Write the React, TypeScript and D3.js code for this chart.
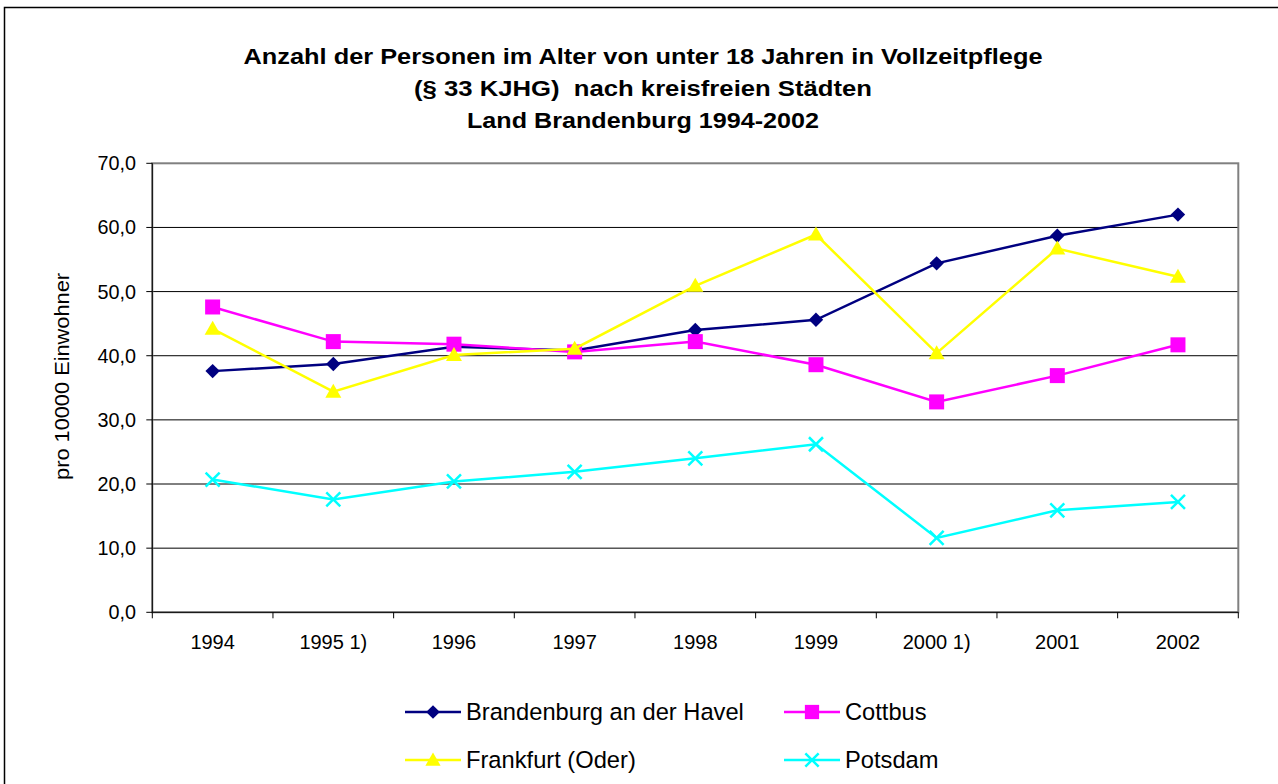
import React from "react";
import * as d3 from "d3";

const categories = ["1994", "1995 1)", "1996", "1997", "1998", "1999", "2000 1)", "2001", "2002"];
const brandenburg = [37.6, 38.7, 41.4, 40.8, 44.0, 45.6, 54.4, 58.7, 62.0];
const cottbus = [47.6, 42.2, 41.8, 40.6, 42.2, 38.6, 32.8, 36.9, 41.7];
const frankfurt = [44.2, 34.4, 40.1, 41.1, 50.9, 58.9, 40.4, 56.7, 52.3];
const potsdam = [20.7, 17.6, 20.4, 21.9, 24.0, 26.2, 11.6, 15.9, 17.2];
const yTicks = [0, 10, 20, 30, 40, 50, 60, 70];
const titleLines = [
  "Anzahl der Personen im Alter von unter 18 Jahren in Vollzeitpflege",
  "(§ 33 KJHG)  nach kreisfreien Städten",
  "Land Brandenburg 1994-2002",
];
const titleWidths = [799, 458, 352];
const yTitle = "pro 10000 Einwohner";

type Series = { name: string; values: number[]; color: string; marker: string };
const series: Series[] = [
  { name: "Brandenburg an der Havel", values: brandenburg, color: "#000080", marker: "diamond" },
  { name: "Cottbus", values: cottbus, color: "#FF00FF", marker: "square" },
  { name: "Frankfurt (Oder)", values: frankfurt, color: "#FFFF00", marker: "triangle" },
  { name: "Potsdam", values: potsdam, color: "#00FFFF", marker: "x" },
];

const FONT = "'Liberation Sans', Arial, sans-serif";

function Marker({ type, x, y, color, s = 1 }: { type: string; x: number; y: number; color: string; s?: number }) {
  if (type === "diamond") {
    const r = 7.2 * s;
    return <path d={`M${x},${y - r}L${x + r},${y}L${x},${y + r}L${x - r},${y}Z`} fill={color} />;
  }
  if (type === "square") {
    const r = 7.5 * s;
    return <rect x={x - r} y={y - r} width={2 * r} height={2 * r} fill={color} />;
  }
  if (type === "triangle") {
    const r = 8 * s;
    return <path d={`M${x},${y - r}L${x + r},${y + r * 0.75}L${x - r},${y + r * 0.75}Z`} fill={color} />;
  }
  const r = 7 * s;
  return (
    <path
      d={`M${x - r},${y - r}L${x + r},${y + r}M${x - r},${y + r}L${x + r},${y - r}`}
      stroke={color}
      strokeWidth={2.5}
      fill="none"
    />
  );
}

export default function App() {
  const W = 1278;
  const H = 784;
  const left = 152.3;
  const right = 1238.3;
  const top = 163.3;
  const bottom = 612.3;

  const x = d3.scaleBand<string>().domain(categories).range([left, right]).padding(0);
  const y = d3.scaleLinear().domain([0, 70]).range([bottom, top]);
  const cx = (c: string) => (x(c) as number) + x.bandwidth() / 2;

  const line = d3
    .line<number>()
    .x((_, i) => cx(categories[i]))
    .y((d) => y(d));

  const boundaries = categories.map((c) => x(c) as number).concat([right]);

  const legendItems = [
    { s: series[0], lx: 405, row: 712 },
    { s: series[1], lx: 784, row: 712 },
    { s: series[2], lx: 405, row: 760 },
    { s: series[3], lx: 784, row: 760 },
  ];

  return (
    <svg
      width={W}
      height={H}
      style={{ position: "absolute", left: 0, top: 0, background: "#fff" }}
      fontFamily={FONT}
    >
      <rect x={4.5} y={7.5} width={W + 20} height={H + 20} fill="#fff" stroke="#000" strokeWidth={1.5} />

      {titleLines.map((t, i) => (
        <text
          key={i}
          x={643}
          y={63.5 + i * 32.2}
          textAnchor="middle"
          fontWeight="bold"
          fontSize={21.5}
          textLength={titleWidths[i]}
          lengthAdjust="spacingAndGlyphs"
          style={{ whiteSpace: "pre" }}
        >
          {t}
        </text>
      ))}

      {/* gridlines */}
      {yTicks
        .filter((t) => t > 0 && t < 70)
        .map((t) => (
          <line key={t} x1={left} x2={right} y1={y(t)} y2={y(t)} stroke="#000" strokeWidth={1} />
        ))}
      {/* plot border */}
      <rect x={left} y={top} width={right - left} height={bottom - top} fill="none" stroke="#808080" strokeWidth={2} />
      {/* axes */}
      <line x1={left} x2={left} y1={top} y2={bottom} stroke="#000" strokeWidth={1} />
      <line x1={left} x2={right} y1={bottom} y2={bottom} stroke="#000" strokeWidth={1} />

      {yTicks.map((t) => (
        <g key={t}>
          <line x1={left - 6} x2={left} y1={y(t)} y2={y(t)} stroke="#000" strokeWidth={1} />
          <text x={136} y={y(t) + 7} textAnchor="end" fontSize={19.8}>
            {d3.format(".1f")(t).replace(".", ",")}
          </text>
        </g>
      ))}
      {boundaries.map((b, i) => (
        <line key={i} x1={b} x2={b} y1={bottom} y2={bottom + 6} stroke="#000" strokeWidth={1} />
      ))}
      {categories.map((c) => (
        <text key={c} x={cx(c)} y={649} textAnchor="middle" fontSize={20}>
          {c}
        </text>
      ))}

      <text
        transform={`translate(69,376.5) rotate(-90)`}
        textAnchor="middle"
        fontSize={20}
        textLength={207}
        lengthAdjust="spacingAndGlyphs"
      >
        {yTitle}
      </text>

      {series.map((s) => (
        <g key={s.name}>
          <path d={line(s.values) as string} fill="none" stroke={s.color} strokeWidth={2.5} />
          {s.values.map((v, i) => (
            <Marker key={i} type={s.marker} x={cx(categories[i])} y={y(v)} color={s.color} />
          ))}
        </g>
      ))}

      {legendItems.map(({ s, lx, row }) => (
        <g key={s.name}>
          <line x1={lx} x2={lx + 56} y1={row} y2={row} stroke={s.color} strokeWidth={2.5} />
          <Marker type={s.marker} x={lx + 28} y={row} color={s.color} s={0.95} />
          <text x={lx + 61} y={row + 8} fontSize={23.7}>
            {s.name}
          </text>
        </g>
      ))}
    </svg>
  );
}
